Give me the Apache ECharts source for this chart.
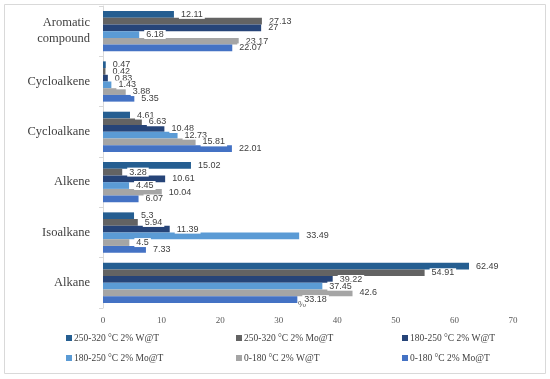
<!DOCTYPE html>
<html>
<head>
<meta charset="utf-8">
<script src="https://cdn.jsdelivr.net/npm/echarts@6/dist/echarts.min.js"></script>
<style>html,body{margin:0;padding:0;background:#fff;}#c{width:550px;height:379px;}</style>
</head>
<body>
<div id="c"></div>
<script>
// categories bottom -> top
const categories = ['Alkane', 'Isoalkane', 'Alkene', 'Cycloalkane', 'Cycloalkene', 'Aromatic\ncompound'];
const xTicks = [0, 10, 20, 30, 40, 50, 60, 70];
const seriesNames = ['250-320 °C 2% W@T', '250-320 °C 2% Mo@T', '180-250 °C 2% W@T', '180-250 °C 2% Mo@T', '0-180 °C 2% W@T', '0-180 °C 2% Mo@T'];
const w250_320 = [62.49, 5.3, 15.02, 4.61, 0.47, 12.11];
const mo250_320 = [54.91, 5.94, 3.28, 6.63, 0.42, 27.13];
const w180_250 = [39.22, 11.39, 10.61, 10.48, 0.83, 27];
const mo180_250 = [37.45, 33.49, 4.45, 12.73, 1.43, 6.18];
const w0_180 = [42.6, 4.5, 10.04, 15.81, 3.88, 23.17];
const mo0_180 = [33.18, 7.33, 6.07, 22.01, 5.35, 22.07];
const seriesData = [w250_320, mo250_320, w180_250, mo180_250, w0_180, mo0_180];
const colors = ['#255E91', '#636363', '#264478', '#5B9BD5', '#A5A5A5', '#4472C4'];

const chart = echarts.init(document.getElementById('c'));
const serif = '"Liberation Serif", "DejaVu Serif", serif';

const series = seriesNames.map((n, i) => ({
  name: n,
  type: 'bar',
  data: seriesData[i],
  itemStyle: { color: colors[i] },
  barGap: '0%',
  barCategoryGap: '20%',
  label: {
    show: true,
    position: 'right',
    distance: 5,
    color: '#404040',
    fontFamily: '"Liberation Sans", sans-serif',
    fontSize: 9,
    backgroundColor: '#fff',
    padding: [0, 2, 0, 2]
  }
}));

const legendPos = [[66, 332], [236, 332], [402, 332], [66, 352], [236, 352], [402, 352]];
const legends = seriesNames.map((n, i) => ({
  data: [n],
  left: legendPos[i][0],
  top: legendPos[i][1],
  padding: 0,
  icon: 'rect',
  itemWidth: 6,
  itemHeight: 6,
  selectedMode: false,
  textStyle: { color: '#404040', fontFamily: serif, fontSize: 9.5, lineHeight: 12, padding: [0, 0, 0, -3] }
}));

chart.setOption({
  animation: false,
  grid: { left: 103, right: 37, top: 6, bottom: 71 },
  legend: legends,
  xAxis: {
    type: 'value', min: 0, max: 70, interval: 10,
    splitLine: { show: false }, axisLine: { show: false }, axisTick: { show: false },
    axisLabel: { color: '#595959', fontFamily: serif, fontSize: 9, margin: 8,
      customValues: xTicks }
  },
  yAxis: {
    type: 'category', data: categories,
    axisLine: { show: true, lineStyle: { color: '#D9D9D9' } },
    axisTick: { show: true, length: 4, lineStyle: { color: '#D9D9D9' } },
    axisLabel: { color: '#404040', fontFamily: serif, fontSize: 12.5, lineHeight: 16, margin: 13 }
  },
  graphic: [{
    type: 'rect', shape: { x: 4.5, y: 4.5, width: 541, height: 369 },
    style: { fill: 'none', stroke: '#D9D9D9', lineWidth: 1 }, silent: true
  }, {
    type: 'text', left: 298, top: 300, silent: true,
    style: { text: '%', fill: '#595959', font: '9px "Liberation Sans", sans-serif' }
  }],
  series: series
});
</script>
</body>
</html>
